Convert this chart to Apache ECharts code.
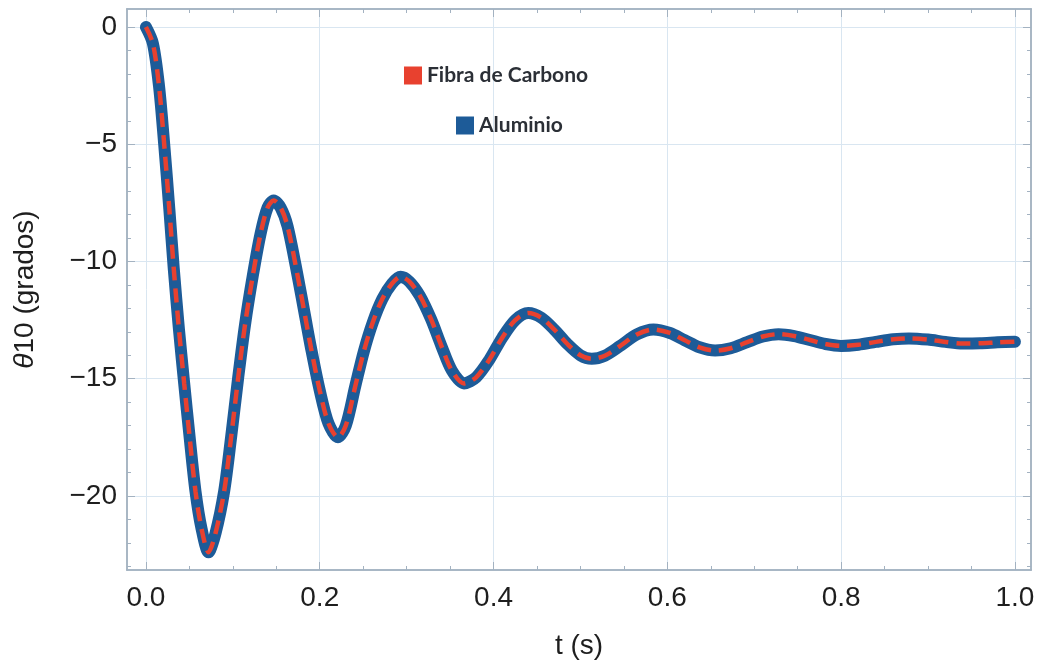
<!DOCTYPE html>
<html>
<head>
<meta charset="utf-8">
<script src="https://cdn.jsdelivr.net/npm/echarts@6/dist/echarts.min.js"></script>
<style>
  html, body { margin: 0; padding: 0; background: #fff; }
  #chart { width: 1040px; height: 665px; }
</style>
</head>
<body>
<div id="chart"></div>
<script>
// time samples (s)
const tValues = [
  0.000, 0.008, 0.015, 0.021, 0.027, 0.032, 0.038, 0.044, 0.050, 0.057,
  0.064, 0.072, 0.080, 0.090, 0.098, 0.106, 0.114, 0.123, 0.132, 0.140,
  0.147, 0.155, 0.163, 0.175, 0.183, 0.190, 0.200, 0.210, 0.221, 0.230,
  0.241, 0.251, 0.261, 0.272, 0.283, 0.293, 0.303, 0.315, 0.328, 0.340,
  0.352, 0.366, 0.380, 0.395, 0.410, 0.425, 0.440, 0.455, 0.470, 0.485,
  0.500, 0.513, 0.528, 0.545, 0.565, 0.584, 0.603, 0.620, 0.637, 0.655,
  0.673, 0.692, 0.710, 0.728, 0.746, 0.764, 0.782, 0.800, 0.820, 0.840,
  0.860, 0.878, 0.900, 0.920, 0.940, 0.960, 0.980, 1.000
]
// theta10 (grados), both materials give practically the same curve
const fibraValues = [
  0.0, -0.7, -2.5, -5.0, -7.8, -10.3, -12.9, -15.2, -17.4, -19.8,
  -21.4, -22.4, -21.6, -19.8, -17.5, -15.0, -12.7, -10.6, -8.8, -7.7,
  -7.4, -7.7, -8.5, -10.7, -12.3, -13.7, -15.5, -16.9, -17.5, -17.0,
  -15.3, -13.8, -12.6, -11.6, -10.95, -10.65, -10.85, -11.45, -12.45, -13.6,
  -14.65, -15.2, -14.94, -14.2, -13.25, -12.5, -12.2, -12.4, -12.91, -13.52,
  -14.0, -14.15, -14.02, -13.62, -13.11, -12.9, -13.05, -13.36, -13.66, -13.8,
  -13.7, -13.44, -13.2, -13.1, -13.18, -13.35, -13.52, -13.6, -13.55, -13.43,
  -13.32, -13.28, -13.33, -13.43, -13.5, -13.49, -13.45, -13.42
]
const aluminioValues = [
  0.0, -0.7, -2.5, -5.0, -7.8, -10.3, -12.9, -15.2, -17.4, -19.8,
  -21.4, -22.4, -21.6, -19.8, -17.5, -15.0, -12.7, -10.6, -8.8, -7.7,
  -7.4, -7.7, -8.5, -10.7, -12.3, -13.7, -15.5, -16.9, -17.5, -17.0,
  -15.3, -13.8, -12.6, -11.6, -10.95, -10.65, -10.85, -11.45, -12.45, -13.6,
  -14.65, -15.2, -14.94, -14.2, -13.25, -12.5, -12.2, -12.4, -12.91, -13.52,
  -14.0, -14.15, -14.02, -13.62, -13.11, -12.9, -13.05, -13.36, -13.66, -13.8,
  -13.7, -13.44, -13.2, -13.1, -13.18, -13.35, -13.52, -13.6, -13.55, -13.43,
  -13.32, -13.28, -13.33, -13.43, -13.5, -13.49, -13.45, -13.42
]
const xTickValues = [0, 0.2, 0.4, 0.6, 0.8, 1.0]
const yTickValues = [-20, -15, -10, -5, 0]

const X_MIN = -0.0218
const X_MAX = 1.0185
const Y_MIN = -23.16
const Y_MAX = 0.77

const frameColor = '#a3b2c1'
const gridColor = '#d9e6f1'
const labelFont = 'Liberation Sans'
const labelColor = '#1e1e1e'

const xMinor = []
for (let i = 0; i <= 20; i++) xMinor.push(+(i * 0.05).toFixed(2))
const yMinor = []
for (let v = -23; v <= 0; v++) yMinor.push(v)

const fibraData = tValues.map((t, i) => [t, fibraValues[i]])
const aluminioData = tValues.map((t, i) => [t, aluminioValues[i]])

function tickAxis(position, min, max, values, length) {
  return {
    type: 'value',
    position: position,
    min: min,
    max: max,
    axisLine: { show: true, onZero: false, lineStyle: { color: frameColor, width: 1.5 } },
    axisTick: { show: true, inside: true, length: length, customValues: values, lineStyle: { color: frameColor, width: 1 } },
    axisLabel: { show: false },
    splitLine: { show: false }
  }
}

const legendText = { fontFamily: 'Lato', fontSize: 21, fontWeight: 'bold', color: '#2b2f36' }

const chart = echarts.init(document.getElementById('chart'))
chart.setOption({
  animation: false,
  backgroundColor: '#fff',
  grid: { left: 127, right: 9, top: 9, bottom: 95 },
  legend: [
    {
      data: [{ name: 'Fibra de Carbono', icon: 'rect', itemStyle: { color: '#e8412f' } }],
      left: 399,
      top: 60,
      itemWidth: 18,
      itemHeight: 18,
      textStyle: legendText
    },
    {
      data: [{ name: 'Aluminio', icon: 'rect', itemStyle: { color: '#1d5b98' } }],
      left: 451,
      top: 110,
      itemWidth: 18,
      itemHeight: 18,
      textStyle: legendText
    }
  ],
  xAxis: [
    {
      type: 'value',
      position: 'bottom',
      min: X_MIN,
      max: X_MAX,
      minInterval: 0.2,
      maxInterval: 0.2,
      axisLine: { show: true, onZero: false, lineStyle: { color: frameColor, width: 1.5 } },
      axisTick: { show: true, inside: true, length: 8, customValues: xTickValues, lineStyle: { color: frameColor } },
      axisLabel: {
        customValues: xTickValues,
        formatter: (v) => Number(v).toFixed(1),
        fontFamily: labelFont,
        fontSize: 28,
        color: labelColor,
        margin: 14
      },
      splitLine: { show: true, lineStyle: { color: gridColor, width: 1 } },
      name: 't (s)',
      nameLocation: 'middle',
      nameGap: 62,
      nameTextStyle: { fontFamily: labelFont, fontSize: 28, color: labelColor }
    },
    tickAxis('bottom', X_MIN, X_MAX, xMinor, 4),
    tickAxis('top', X_MIN, X_MAX, xTickValues, 8),
    tickAxis('top', X_MIN, X_MAX, xMinor, 4)
  ],
  yAxis: [
    {
      type: 'value',
      position: 'left',
      min: Y_MIN,
      max: Y_MAX,
      minInterval: 5,
      maxInterval: 5,
      axisLine: { show: true, onZero: false, lineStyle: { color: frameColor, width: 1.5 } },
      axisTick: { show: true, inside: true, length: 8, customValues: yTickValues, lineStyle: { color: frameColor } },
      axisLabel: {
        customValues: yTickValues,
        formatter: (v) => String(v).replace('-', '\u2212'),
        fontFamily: labelFont,
        fontSize: 28,
        color: labelColor,
        margin: 10
      },
      splitLine: { show: true, lineStyle: { color: gridColor, width: 1 } },
      name: '{i|θ}10 (grados)',
      nameLocation: 'middle',
      nameRotate: 90,
      nameGap: 88,
      nameTextStyle: {
        fontFamily: labelFont,
        fontSize: 28,
        color: labelColor,
        rich: { i: { fontFamily: labelFont, fontSize: 28, fontStyle: 'italic', color: labelColor } }
      }
    },
    tickAxis('left', Y_MIN, Y_MAX, yMinor, 4),
    tickAxis('right', Y_MIN, Y_MAX, yTickValues, 8),
    tickAxis('right', Y_MIN, Y_MAX, yMinor, 4)
  ],
  series: [
    {
      name: 'Aluminio',
      type: 'line',
      xAxisIndex: 0,
      yAxisIndex: 0,
      data: aluminioData,
      showSymbol: false,
      smooth: 0.3,
      itemStyle: { color: '#1d5b98' },
      lineStyle: { color: '#1d5b98', width: 12, cap: 'round', join: 'round' },
      z: 2
    },
    {
      name: 'Fibra de Carbono',
      type: 'line',
      xAxisIndex: 0,
      yAxisIndex: 0,
      data: fibraData,
      showSymbol: false,
      smooth: 0.3,
      itemStyle: { color: '#e8412f' },
      lineStyle: { color: '#e8412f', width: 4.5, type: [14, 8] },
      z: 3
    }
  ]
})
</script>
</body>
</html>
